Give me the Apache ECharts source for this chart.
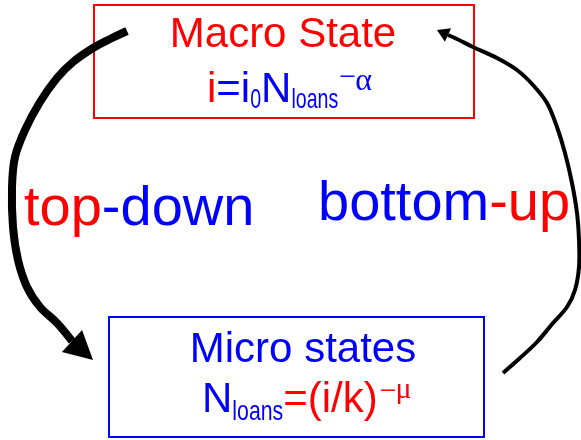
<!DOCTYPE html>
<html>
<head>
<meta charset="utf-8">
<script src="https://cdn.jsdelivr.net/npm/echarts@6/dist/echarts.min.js"></script>
<style>
html,body{margin:0;padding:0;background:#fff;}
#main{width:581px;height:440px;}
</style>
</head>
<body>
<div id="main"></div>
<script>
// ---- content (text) ----
const macroTitle = 'Macro State';
const microTitle = 'Micro states';
const topDown = [['top', 'red'], ['-down', 'blue']];
const bottomUp = [['bottom', 'blue'], ['-up', 'red']];
// formula fragments: [text, colour, role]
const macroFormula = [['i', 'red', 'main'], ['=i', 'blue', 'main'], ['0', 'blue', 'sub'], ['N', 'blue', 'main'],
  ['loans', 'blue', 'sub'], ['\u2212', 'blue', 'supm'], ['\u03b1', 'blue', 'sup']];
const microFormula = [['N', 'blue', 'main'], ['loans', 'blue', 'sub'], ['=(i/k)', 'red', 'main'],
  ['\u2212', 'red', 'supm'], ['\u03bc', 'red', 'sup']];
// arrow paths (diagram coordinates, y downward): traced waypoints, then tip
const downPath = [[127,31],[110,39],[93,48],[73,62],[57,78],[40,102],[25,130],[15,157],[12,187],[13,227],[18,260],[27,287],[40,307],[57,323],[72,341]];
const downTip = [93,360];
const upPath = [[503,373],[520,358],[537,342],[553,323],[567,307],[575,290],[579,267],[579,240],[577,213],[572,183],[565,153],[557,127],[547,103],[533,85],[517,70],[497,58],[473,47],[457,39],[448,35]];
const upTip = [437,30];
// boxes: [x0, y0, x1, y1]
const macroBox = [94, 5, 474, 118];
const microBox = [109, 317, 484, 437];

const RED = '#ff0000', BLUE = '#0000ff';
const col = c => c === 'red' ? RED : BLUE;
const SANS = '"Liberation Sans", Arial, sans-serif';
const SERIF = '"Liberation Serif", "DejaVu Serif", serif';

const measureCtx = document.createElement('canvas').getContext('2d');
function tw(t, fs, fam) { measureCtx.font = fs + 'px ' + fam; measureCtx.textBaseline = 'alphabetic'; return measureCtx.measureText(t).width; }
// offset from the 'middle' line to the alphabetic baseline
function midToBase(fs, fam) {
  measureCtx.font = fs + 'px ' + fam; measureCtx.textBaseline = 'middle';
  const d = measureCtx.measureText('H').actualBoundingBoxDescent;
  measureCtx.textBaseline = 'alphabetic';
  return d;
}
function textEl(t, x, base, fs, fam, fill, align, sx) {
  return { type: 'text', x: x, y: base - midToBase(fs, fam), scaleX: sx || 1, scaleY: 1,
    style: { text: t, x: 0, y: 0, fill: fill, fontSize: fs, fontFamily: fam, align: align || 'left', verticalAlign: 'middle' } };
}

function layoutFormula(frags, x, base, roles) {
  const els = [];
  let cx = x;
  frags.forEach(([t, c, role]) => {
    const r = roles[role];
    cx += (r.pre || 0);
    els.push(textEl(t, cx, base + r.dy, r.fs, r.fam, col(c), 'left', r.sx));
    cx += tw(t, r.fs, r.fam) * r.sx + (r.post || 0);
  });
  return els;
}
function layoutWord(frags, x, base, fs) {
  const els = [];
  let cx = x;
  frags.forEach(([t, c]) => {
    els.push(textEl(t, cx, base, fs, SANS, col(c), 'left', 1));
    cx += tw(t, fs, SANS);
  });
  return els;
}

const macroRoles = {
  main: { fs: 42, fam: SANS, dy: 0, sx: 1 },
  sub: { fs: 28, fam: SANS, dy: 6, sx: 0.7 },
  supm: { fs: 30, fam: SERIF, dy: -16, sx: 1, pre: 1, post: -1 },
  sup: { fs: 32, fam: SERIF, dy: -12, sx: 1 }
};
const microRoles = {
  main: { fs: 42, fam: SANS, dy: 0, sx: 1 },
  sub: { fs: 28, fam: SANS, dy: 8, sx: 0.76 },
  supm: { fs: 30, fam: SERIF, dy: -12, sx: 1, pre: 2, post: -1 },
  sup: { fs: 30, fam: SERIF, dy: -14, sx: 1 }
};

const graphics = [].concat(
  [textEl(macroTitle, 283, 47, 42, SANS, RED, 'center', 1),
   textEl(microTitle, 303, 362, 42, SANS, BLUE, 'center', 1)],
  layoutFormula(macroFormula, 207, 102, macroRoles),
  layoutFormula(microFormula, 202, 412, microRoles),
  layoutWord(topDown, 24, 225, 56),
  layoutWord(bottomUp, 318, 220, 56)
);

const arrows = [
  { path: downPath, tip: downTip, width: 8, head: 30 },
  { path: upPath, tip: upTip, width: 4, head: 15 }
];
const boxes = [{ box: macroBox, color: RED }, { box: microBox, color: BLUE }];

const chart = echarts.init(document.getElementById('main'), null, { renderer: 'canvas' });
chart.setOption({
  animation: false,
  backgroundColor: '#fff',
  grid: { left: 0, right: 0, top: 0, bottom: 0 },
  xAxis: { type: 'value', min: 0, max: 581, show: false },
  yAxis: { type: 'value', min: 0, max: 440, inverse: true, show: false },
  series: [
    {
      type: 'custom', coordinateSystem: 'cartesian2d', clip: false,
      data: boxes.map((b, i) => [i]),
      renderItem: (params, api) => {
        const b = boxes[params.dataIndex];
        const p0 = api.coord([b.box[0], b.box[1]]), p1 = api.coord([b.box[2], b.box[3]]);
        return { type: 'rect', shape: { x: p0[0], y: p0[1], width: p1[0] - p0[0], height: p1[1] - p0[1] },
          style: { fill: 'none', stroke: b.color, lineWidth: 2 } };
      }
    },
    {
      type: 'custom', coordinateSystem: 'cartesian2d', clip: false,
      data: arrows.map((a, i) => [i]),
      renderItem: (params, api) => {
        const a = arrows[params.dataIndex];
        const pts = a.path.map(p => api.coord(p));
        const tip = api.coord(a.tip);
        const base = pts[pts.length - 1];
        const dx = tip[0] - base[0], dy = tip[1] - base[1];
        const L = Math.hypot(dx, dy), nx = -dy / L, ny = dx / L, h = a.head / 2;
        return { type: 'group', children: [
          { type: 'polyline', shape: { points: pts, smooth: 0.35 },
            style: { fill: 'none', stroke: '#000', lineWidth: a.width, lineCap: 'butt', lineJoin: 'round' } },
          { type: 'polygon', shape: { points: [tip, [base[0] + nx * h, base[1] + ny * h], [base[0] - nx * h, base[1] - ny * h]] },
            style: { fill: '#000' } }
        ] };
      }
    }
  ],
  graphic: graphics
});
</script>
</body>
</html>
